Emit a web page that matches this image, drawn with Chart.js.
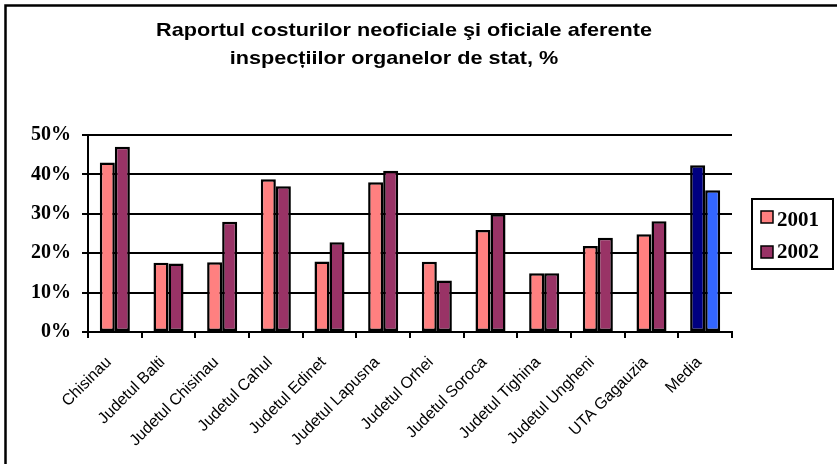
<!DOCTYPE html>
<html>
<head>
<meta charset="utf-8">
<script src="https://cdn.jsdelivr.net/npm/chart.js@4.4.1/dist/chart.umd.min.js"></script>
<style>
  html, body { margin: 0; padding: 0; background: #fff; overflow: hidden; }
  #wrap { width: 837px; height: 464px; position: relative; }
</style>
</head>
<body>
<div id="wrap"><canvas id="c" width="837" height="464"></canvas></div>
<script>
const titleLines = ["Raportul costurilor neoficiale şi oficiale aferente", "inspecțiilor organelor de stat, %"];
const categories = ["Chisinau", "Judetul Balti", "Judetul Chisinau", "Judetul Cahul", "Judetul Edinet", "Judetul Lapusna", "Judetul Orhei", "Judetul Soroca", "Judetul Tighina", "Judetul Ungheni", "UTA Gagauzia", "Media"];
const values2001 = [43.0, 17.6, 17.7, 38.8, 17.9, 38.0, 17.8, 25.9, 14.9, 21.8, 24.8, 42.3];
const values2002 = [47.0, 17.4, 28.0, 37.0, 22.8, 40.9, 13.1, 29.9, 14.9, 23.9, 28.1, 36.0];
const seriesNames = ["2001", "2002"];
const yTicks = [0, 10, 20, 30, 40, 50];

const col2001 = "#FF8080", col2002 = "#993366";
const media2001 = "#000080", media2002 = "#3366FF";
const bg2001 = categories.map(c => c === "Media" ? media2001 : col2001);
const bg2002 = categories.map(c => c === "Media" ? media2002 : col2002);

const extras = {
  id: "extras",
  afterDraw(chart) {
    const ctx = chart.ctx;
    ctx.save();
    // frame (left/top visible)
    ctx.strokeStyle = "#000";
    ctx.lineWidth = 2.5;
    ctx.beginPath();
    ctx.moveTo(5.5, 464); ctx.lineTo(5.5, 5.5); ctx.lineTo(837, 5.5);
    ctx.stroke();
    // title (slightly widened like the reference)
    ctx.fillStyle = "#000";
    ctx.textAlign = "center";
    ctx.textBaseline = "alphabetic";
    ctx.font = "bold 19px 'Liberation Sans', Arial, sans-serif";
    ctx.save();
    ctx.translate(404, 36);
    ctx.scale(1.14, 1);
    ctx.fillText(titleLines[0], 0, 0);
    ctx.restore();
    ctx.save();
    ctx.translate(394, 64);
    ctx.scale(1.14, 1);
    ctx.fillText(titleLines[1], 0, 0);
    ctx.restore();
    // legend
    ctx.lineWidth = 2;
    ctx.strokeRect(752, 199, 81, 70);
    const ys = [211, 246];
    const basel = [226, 258];
    chart.data.datasets.forEach((ds, i) => {
      ctx.fillStyle = ds.legendColor;
      ctx.fillRect(761, ys[i], 12, 12);
      ctx.lineWidth = 1.5;
      ctx.strokeStyle = "#000";
      ctx.strokeRect(761, ys[i], 12, 12);
      ctx.fillStyle = "#000";
      ctx.textAlign = "left";
      ctx.font = "bold 21px 'Liberation Serif', 'Times New Roman', serif";
      ctx.fillText(ds.label, 777, basel[i]);
    });
    ctx.restore();
  }
};

new Chart(document.getElementById("c"), {
  type: "bar",
  data: {
    labels: categories,
    datasets: [
      { label: seriesNames[0], data: values2001, backgroundColor: bg2001, legendColor: col2001, borderColor: "#000", borderWidth: 2.5, borderSkipped: false },
      { label: seriesNames[1], data: values2002, backgroundColor: bg2002, legendColor: col2002, borderColor: "#000", borderWidth: 2.5, borderSkipped: false }
    ]
  },
  options: {
    responsive: false,
    animation: false,
    events: [],
    layout: { padding: { left: 0, top: 135, right: 105, bottom: 0 } },
    datasets: { bar: { categoryPercentage: 0.56, barPercentage: 1.0 } },
    plugins: { legend: { display: false }, title: { display: false }, tooltip: { enabled: false } },
    scales: {
      x: {
        afterFit(s) { s.height = 132; },
        grid: { display: true, drawOnChartArea: false, drawTicks: true, tickLength: 6, offset: true, color: "#000", lineWidth: 2 },
        border: { display: true, color: "#000", width: 2 },
        ticks: {
          autoSkip: false, minRotation: 45, maxRotation: 45, padding: 15, labelOffset: -6,
          color: "#000",
          font: { family: "'Liberation Sans', Arial, sans-serif", size: 16 }
        }
      },
      y: {
        min: 0, max: 50,
        afterFit(s) { s.width = 88; },
        afterBuildTicks(s) { s.ticks = yTicks.map(v => ({ value: v })); },
        grid: { color: "#000", lineWidth: 2, drawTicks: true, tickLength: 6 },
        border: { display: true, color: "#000", width: 2 },
        ticks: {
          padding: 11, color: "#000",
          font: { family: "'Liberation Serif', 'Times New Roman', serif", size: 20, weight: "bold" },
          callback: v => v + "%"
        }
      }
    }
  },
  plugins: [extras]
});
</script>
</body>
</html>
